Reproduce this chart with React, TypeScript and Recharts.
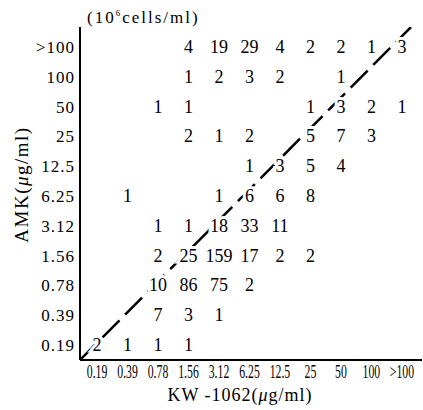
import React from 'react'
import {Label, Scatter, ScatterChart, XAxis, YAxis} from 'recharts'

// concentration categories on both axes (µg/ml)
const kwLabels = ['0.19', '0.39', '0.78', '1.56', '3.12', '6.25', '12.5', '25', '50', '100', '>100']
const amkLabels = ['0.19', '0.39', '0.78', '1.56', '3.12', '6.25', '12.5', '25', '50', '100', '>100']

// strain counts, one array per AMK row (bottom -> top), index = KW-1062 column
const row019 = [2, 1, 1, 1, null, null, null, null, null, null, null]
const row039 = [null, null, 7, 3, 1, null, null, null, null, null, null]
const row078 = [null, null, 10, 86, 75, 2, null, null, null, null, null]
const row156 = [null, null, 2, 25, 159, 17, 2, 2, null, null, null]
const row312 = [null, null, 1, 1, 18, 33, 11, null, null, null, null]
const row625 = [null, 1, null, null, 1, 6, 6, 8, null, null, null]
const row125 = [null, null, null, null, null, 1, 3, 5, 4, null, null]
const row25 = [null, null, null, 2, 1, 2, null, 5, 7, 3, null]
const row50 = [null, null, 1, 1, null, null, null, 1, 3, 2, 1]
const row100 = [null, null, null, 1, 2, 3, 2, null, 1, null, null]
const rowOver100 = [null, null, null, 4, 19, 29, 4, 2, 2, 1, 3]

const rows = [row019, row039, row078, row156, row312, row625, row125, row25, row50, row100, rowOver100]

// equal-MIC diagonal, from the origin corner to the top right
const diagonal = [
    {x: -0.56, y: -0.5},
    {x: 10.3, y: 10.67},
]

const serif = '"Liberation Serif", "Times New Roman", serif'

const cells = rows.flatMap((row, j) =>
    row.map((n, i) => ({x: i, y: j, n})).filter(c => c.n !== null)
)

const XTick = (props: any) => {
    const {x, y, payload} = props
    return (
        <text
            transform={`translate(${x},${y + 18}) scale(0.62,1)`}
            textAnchor='middle'
            fontFamily={serif}
            fontSize={19}
            fill='#000'
        >
            {kwLabels[payload.value]}
        </text>
    )
}

const YTick = (props: any) => {
    const {x, y, payload} = props
    return (
        <text
            x={x}
            y={y}
            dy={6}
            textAnchor='end'
            fontFamily={serif}
            fontSize={17}
            letterSpacing={1}
            fill='#000'
        >
            {amkLabels[payload.value]}
        </text>
    )
}

const CountShape = (props: any) => {
    const {cx, cy, payload} = props
    return (
        <text
            x={cx}
            y={cy}
            dy={6}
            textAnchor='middle'
            fontFamily={serif}
            fontSize={18}
            fill='#000'
            stroke='#fff'
            strokeWidth={6}
            style={{paintOrder: 'stroke'}}
        >
            {payload.n}
        </text>
    )
}

const App = () => {
    const ticks = kwLabels.map((_, i) => i)
    return (
        <div style={{position: 'absolute', left: 0, top: 0, width: 423, height: 410, background: '#fff'}}>
            <div style={{
                position: 'absolute',
                left: 87,
                top: 8,
                fontFamily: serif,
                fontSize: 17,
                letterSpacing: 2,
                whiteSpace: 'nowrap',
            }}>
                (10<sup style={{fontSize: 9}}>6</sup>cells/ml)
            </div>
            <ScatterChart
                width={423}
                height={410}
                margin={{top: 27, right: 1, bottom: 0, left: 0}}
            >
                <XAxis
                    type='number'
                    dataKey='x'
                    domain={[-0.56, 10.66]}
                    ticks={ticks}
                    allowDataOverflow
                    height={50}
                    tickLine={false}
                    tickSize={0}
                    tickMargin={0}
                    axisLine={{stroke: '#000', strokeWidth: 2}}
                    tick={<XTick/>}
                    interval={0}
                >
                    <Label
                        content={(p: any) => {
                            const vb = p.viewBox
                            return (
                                <text
                                    x={vb.x + vb.width / 2 - 11}
                                    y={vb.y + 41}
                                    textAnchor='middle'
                                    fontFamily={serif}
                                    fontSize={18}
                                    letterSpacing={1}
                                    fill='#000'
                                >
                                    KW -1062(<tspan fontStyle='italic'>μ</tspan>g/ml)
                                </text>
                            )
                        }}
                    />
                </XAxis>
                <YAxis
                    type='number'
                    dataKey='y'
                    domain={[-0.5, 10.67]}
                    ticks={ticks}
                    allowDataOverflow
                    width={80}
                    tickLine={false}
                    tickSize={0}
                    tickMargin={5}
                    axisLine={{stroke: '#000', strokeWidth: 2}}
                    tick={<YTick/>}
                    interval={0}
                >
                    <Label
                        content={(p: any) => {
                            const vb = p.viewBox
                            const cx = vb.x + 22
                            const cy = vb.y + vb.height / 2 - 9
                            return (
                                <text
                                    x={cx}
                                    y={cy}
                                    dy={6}
                                    transform={`rotate(-90 ${cx} ${cy})`}
                                    textAnchor='middle'
                                    fontFamily={serif}
                                    fontSize={19}
                                    letterSpacing={1.5}
                                    fill='#000'
                                >
                                    AMK(<tspan fontStyle='italic'>μ</tspan>g/ml)
                                </text>
                            )
                        }}
                    />
                </YAxis>
                <Scatter
                    data={diagonal}
                    line={{stroke: '#000', strokeWidth: 2.5, strokeDasharray: '24 8'}}
                    shape={() => <g/>}
                    isAnimationActive={false}
                />
                <Scatter
                    data={cells}
                    shape={<CountShape/>}
                    isAnimationActive={false}
                />
            </ScatterChart>
        </div>
    )
}
export default App
